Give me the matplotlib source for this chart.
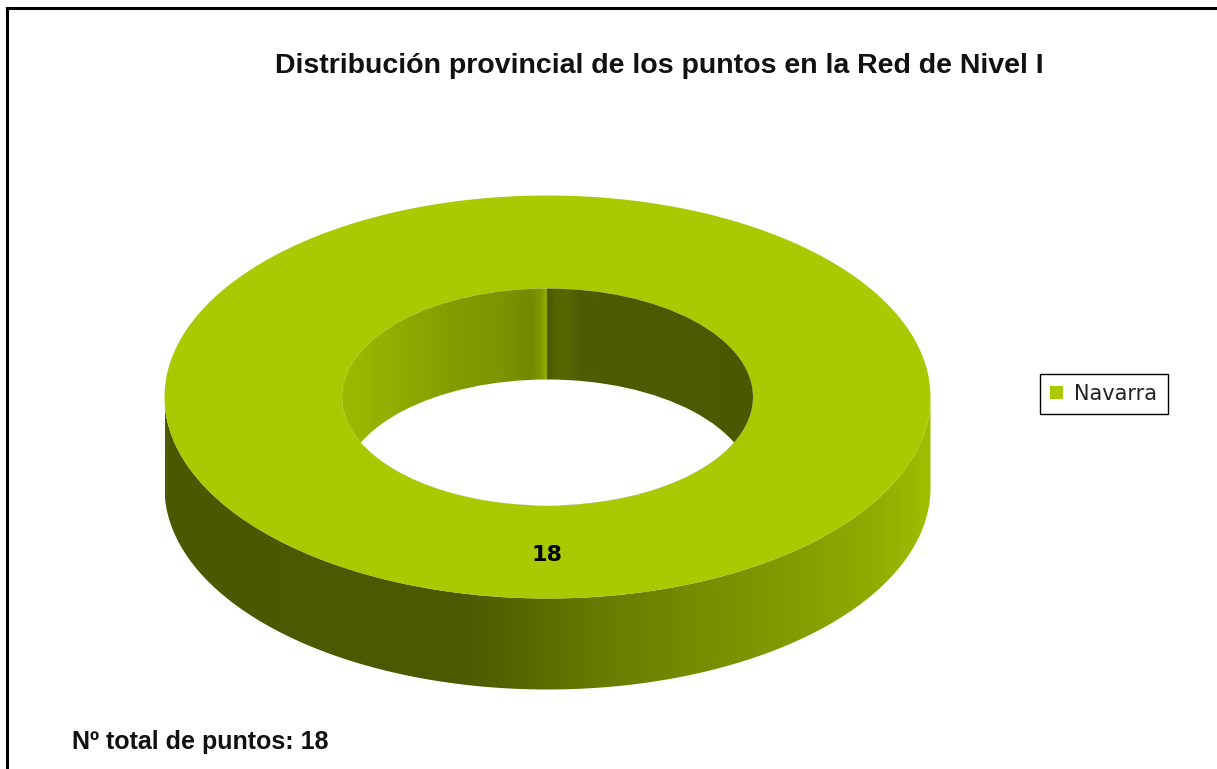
import numpy as np
import matplotlib.pyplot as plt
from matplotlib.patches import Polygon, Ellipse, Patch
from matplotlib.lines import Line2D
from matplotlib.colors import to_rgb

# data
provincias = ['Navarra']
puntos = [18]
colores = ['#a9c900']
titulo = 'Distribución provincial de los puntos en la Red de Nivel I'

# geometry of the 3d ring, in pixel units
CX, CY = 547.5, 397
RX, RY = 383, 201.5
IRX, IRY = 205.5, 108.5
DEPTH = 91

W, H = 1217, 769
fig = plt.figure(figsize=(W / 100, H / 100), dpi=100)
ax = fig.add_axes([0, 0, 1, 1])
ax.set_xlim(0, W)
ax.set_ylim(H, 0)
ax.axis('off')


def ell(t, rx, ry, dy=0):
    return np.column_stack([CX + rx * np.cos(t), CY + dy + ry * np.sin(t)])


def shaded(patch, xs, fac, base, y0, y1):
    # horizontal brightness gradient clipped to a patch
    x0, x1 = xs[0], xs[-1]
    xx = np.linspace(x0, x1, 600)
    f = np.interp(xx, xs, fac)
    img = np.clip(np.outer(f, base), 0, 1)[None, :, :]
    im = ax.imshow(img, extent=(x0, x1, y1, y0), aspect='auto',
                   interpolation='bilinear', zorder=patch.get_zorder())
    ax.add_patch(patch)
    patch.set_visible(False)
    im.set_clip_path(patch)


total = sum(puntos)
start = -np.pi / 2  # slices start at 12 o'clock
for val, col in zip(puntos, colores):
    base = np.array(to_rgb(col))
    span = 2 * np.pi * val / total
    t = np.linspace(start, start + span, 400)

    # outer side wall (front half only)
    tf = np.linspace(0, np.pi, 300)
    side = np.vstack([ell(tf, RX, RY), ell(tf[::-1], RX, RY, DEPTH)])
    shaded(Polygon(side, closed=True, lw=0, zorder=1),
           [CX - RX, 460, 510, 600, 700, 800, 880, CX + RX],
           [0.44, 0.45, 0.5, 0.61, 0.7, 0.78, 0.86, 0.95],
           base, CY - 5, CY + RY + DEPTH + 5)

    # top face
    top = np.vstack([ell(t, RX, RY), ell(t[::-1], IRX, IRY)])
    ax.add_patch(Polygon(top, closed=True, facecolor=col, lw=0, zorder=2))

    # inner wall, seen through the hole
    hole = Ellipse((CX, CY), 2 * IRX, 2 * IRY, lw=0, zorder=3)
    shaded(hole,
           [CX - IRX, 400, 450, 500, 530, 541, 546.5, 547.5, 555, 565, 580, CX + IRX],
           [0.93, 0.85, 0.78, 0.74, 0.68, 0.76, 0.88, 0.44, 0.5, 0.52, 0.46, 0.44],
           base, CY - IRY, CY + IRY)
    floor = Ellipse((CX, CY + DEPTH), 2 * IRX, 2 * IRY, facecolor='white',
                    lw=0, zorder=4)
    ax.add_patch(floor)
    floor.set_clip_path(Ellipse((CX, CY), 2 * IRX, 2 * IRY, transform=ax.transData))

    mid = start + span / 2
    if total == val:
        mid = np.pi / 2
    lx = CX + (RX + IRX) / 2 * np.cos(mid)
    ly = CY + (RY + IRY) / 2 * np.sin(mid)
    ax.text(lx, ly + 3, str(val), ha='center', va='center', fontsize=16,
            fontweight='bold', family='DejaVu Sans', zorder=5)
    start += span

ax.text(659, 66, titulo, ha='center', va='center', fontsize=20.5,
        fontweight='bold', family='Liberation Sans', color='#111111')
ax.text(72, 742, f'Nº total de puntos: {total}', ha='left', va='center',
        fontsize=18, fontweight='bold', family='Liberation Sans', color='#111111')

handles = [Patch(facecolor=c, edgecolor='none') for c in colores]
leg = ax.legend(handles, provincias, loc='center left',
                bbox_to_anchor=(1040 / W, 1 - 394 / H), frameon=True,
                fancybox=False, edgecolor='black', framealpha=1,
                prop={'family': 'DejaVu Sans', 'size': 15},
                handlelength=0.6, handleheight=0.6, handletextpad=0.55,
                borderpad=0.5, borderaxespad=0)
leg.get_frame().set_linewidth(1.0)
for txt in leg.get_texts():
    txt.set_color('#222222')

# frame around the picture (top and left edges only are visible)
fig.add_artist(Line2D([7 / W, 1], [1 - 8 / H, 1 - 8 / H], color='black', lw=2.2,
                      transform=fig.transFigure))
fig.add_artist(Line2D([7 / W, 7 / W], [0, 1 - 8 / H], color='black', lw=2.2,
                      transform=fig.transFigure))

fig.savefig('out.png', dpi=100)
